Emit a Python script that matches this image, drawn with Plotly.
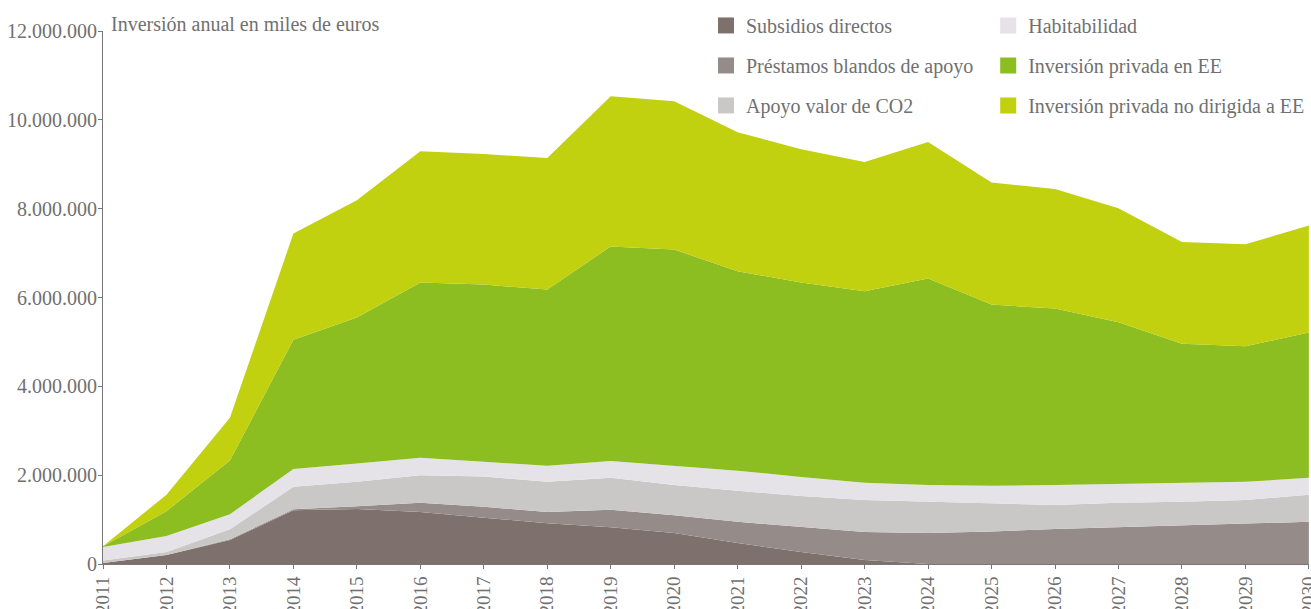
import plotly.graph_objects as go

years = list(range(2011, 2031))

series_names = [
    "Subsidios directos",
    "Préstamos blandos de apoyo",
    "Apoyo valor de CO2",
    "Habitabilidad",
    "Inversión privada en EE",
    "Inversión privada no dirigida a EE",
]

subsidios = [20000, 200000, 540000, 1210000, 1240000, 1170000, 1040000, 920000, 830000, 700000,
             470000, 270000, 90000, 0, 0, 0, 0, 0, 0, 0]
prestamos = [0, 0, 20000, 20000, 60000, 210000, 250000, 250000, 390000, 400000,
             480000, 560000, 630000, 700000, 730000, 790000, 830000, 880000, 920000, 950000]
co2 = [60000, 70000, 220000, 510000, 550000, 620000, 680000, 680000, 720000, 680000,
       700000, 700000, 720000, 700000, 630000, 540000, 550000, 520000, 520000, 610000]
habitabilidad = [300000, 360000, 340000, 400000, 410000, 390000, 330000, 360000, 380000, 430000,
                 450000, 430000, 390000, 380000, 400000, 450000, 420000, 430000, 410000, 380000]
privada_ee = [20000, 560000, 1210000, 2910000, 3290000, 3950000, 3990000, 3970000, 4830000, 4870000,
              4490000, 4380000, 4310000, 4650000, 4080000, 3970000, 3640000, 3130000, 3050000, 3270000]
privada_no_ee = [0, 370000, 960000, 2390000, 2640000, 2950000, 2940000, 2960000, 3380000, 3340000,
                 3130000, 3000000, 2910000, 3070000, 2750000, 2690000, 2570000, 2290000, 2300000, 2410000]

y_ticks = [0, 2000000, 4000000, 6000000, 8000000, 10000000, 12000000]

colors = ["#7e706d", "#958c89", "#cac7c7", "#e5e3e7", "#8cbd21", "#c1d00f"]
data = [subsidios, prestamos, co2, habitabilidad, privada_ee, privada_no_ee]

FONT = "Liberation Serif"
GREY = "#707070"

fig = go.Figure()
for name, vals, col in zip(series_names, data, colors):
    fig.add_trace(go.Scatter(
        x=years, y=vals, name=name, stackgroup="one", mode="lines",
        line=dict(width=0, color=col), fillcolor=col, showlegend=False,
    ))

# legend entries (square swatches), two columns
for i, (name, col) in enumerate(zip(series_names, colors)):
    fig.add_trace(go.Scatter(
        x=[None], y=[None], mode="markers", name=name,
        marker=dict(symbol="square", size=18, color=col),
        legend="legend" if i < 3 else "legend2", legendgroup=name,
        showlegend=True,
    ))

legend_common = dict(
    orientation="v", yanchor="top", xanchor="left",
    font=dict(family=FONT, size=20, color=GREY),
    bgcolor="rgba(0,0,0,0)", tracegroupgap=11, itemsizing="trace",
)

fig.update_layout(
    width=1311, height=609,
    margin=dict(l=103, r=2, t=31, b=45, autoexpand=False),
    paper_bgcolor="white", plot_bgcolor="white",
    separators=",.",
    font=dict(family=FONT, size=17, color=GREY),
    legend=dict(x=0.500, y=1.047, **legend_common),
    legend2=dict(x=0.734, y=1.047, **legend_common),
    xaxis=dict(
        range=[2011, 2030.002], tickvals=years, ticktext=[str(y) for y in years],
        tickangle=-90, showline=True, linecolor="#777777", linewidth=1,
        ticks="outside", ticklen=4, tickcolor="#777777", showgrid=False, zeroline=False,
        tickfont=dict(family=FONT, size=19, color=GREY), automargin=False,
        ticklabeloverflow="allow",
    ),
    yaxis=dict(
        range=[0, 12000000], tickvals=y_ticks, tickformat=",d",
        showline=True, linecolor="#777777", linewidth=1,
        ticks="outside", ticklen=4, tickcolor="#777777", showgrid=False, zeroline=False,
        tickfont=dict(family=FONT, size=20, color=GREY), automargin=False,
        ticklabelstandoff=-3,
    ),
    annotations=[dict(
        text="Inversión anual en miles de euros", xref="paper", yref="paper",
        x=0.005, y=1.013, xanchor="left", yanchor="middle", showarrow=False,
        font=dict(family=FONT, size=20, color=GREY),
    )],
)

fig.write_html(
    "out.html",
    config={"displayModeBar": False},
    post_script="document.body.style.margin='0';document.body.style.overflow='hidden';",
)
